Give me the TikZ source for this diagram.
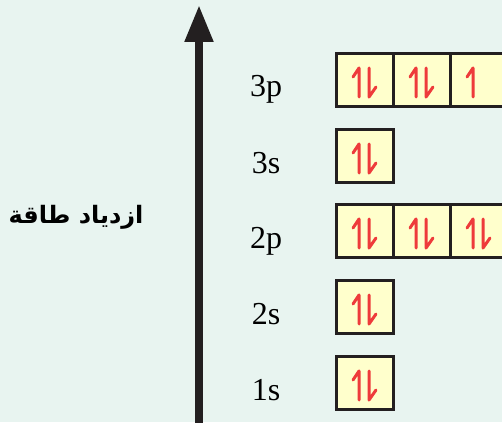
\documentclass[tikz,border=0pt]{standalone}
\usepackage{fontspec}
\setmainfont{Liberation Serif}
\newfontfamily\arabicfont[Script=Arabic]{DejaVu Sans}
\TeXXeTstate=1
\usetikzlibrary{arrows.meta,calc}
\definecolor{bgmint}{HTML}{E8F4F0}
\definecolor{boxfill}{HTML}{FFFFCC}
\definecolor{spinred}{HTML}{EE3B3B}
\definecolor{boxline}{HTML}{231F20}
\tikzset{
  orbital/.style={draw=boxline, fill=boxfill, line width=3pt, minimum width=57pt,
    minimum height=53pt, inner sep=0pt, outer sep=0pt},
  spin/.style={draw=spinred, line width=3pt, line cap=round, line join=round},
  level/.style={font=\fontsize{32}{36}\selectfont, anchor=base}
}
% one electron up / one electron down in an orbital box
\newcommand{\spinup}[1]{\draw[spin] ($(#1)+(-5.5,17)$) -- ++(0,-29) -- ++(-6,9);}
\newcommand{\spindown}[1]{\draw[spin] ($(#1)+(4.5,-12)$) -- ++(0,29) -- ++(7,-10);}
\begin{document}
\begin{tikzpicture}[x=1pt,y=-1pt]
\useasboundingbox (0,0) rectangle (502,422);
\fill[bgmint] (0,0) rectangle (502,422);

% energy axis
\coordinate (axis bottom) at (199,425);
\coordinate (axis top) at (199,5);
\draw[boxline, line width=8pt, -{Triangle[width=27pt,length=37pt]}] (axis bottom) -- (axis top);
\node[font=\arabicfont\bfseries\fontsize{24}{28}\selectfont] (energy) at (76,217) {\beginR ازدياد طاقة\endR};

% levels
\foreach \lvl/\y/\k in {1s/383/1, 2s/307/1, 2p/231/3, 3s/156/1, 3p/80/3} {
  \node[level] (label-\lvl) at (266,\y+17) {\lvl};
  \foreach \i in {1,...,\k}
    \node[orbital] (box-\lvl-\i) at (307.5+57*\i,\y) {};
}

% electrons
\foreach \b in {box-1s-1, box-2s-1, box-2p-1, box-2p-2, box-2p-3, box-3s-1, box-3p-1, box-3p-2} {
  \spinup{\b}
  \spindown{\b}
}
\spinup{box-3p-3}

\end{tikzpicture}
\end{document}
